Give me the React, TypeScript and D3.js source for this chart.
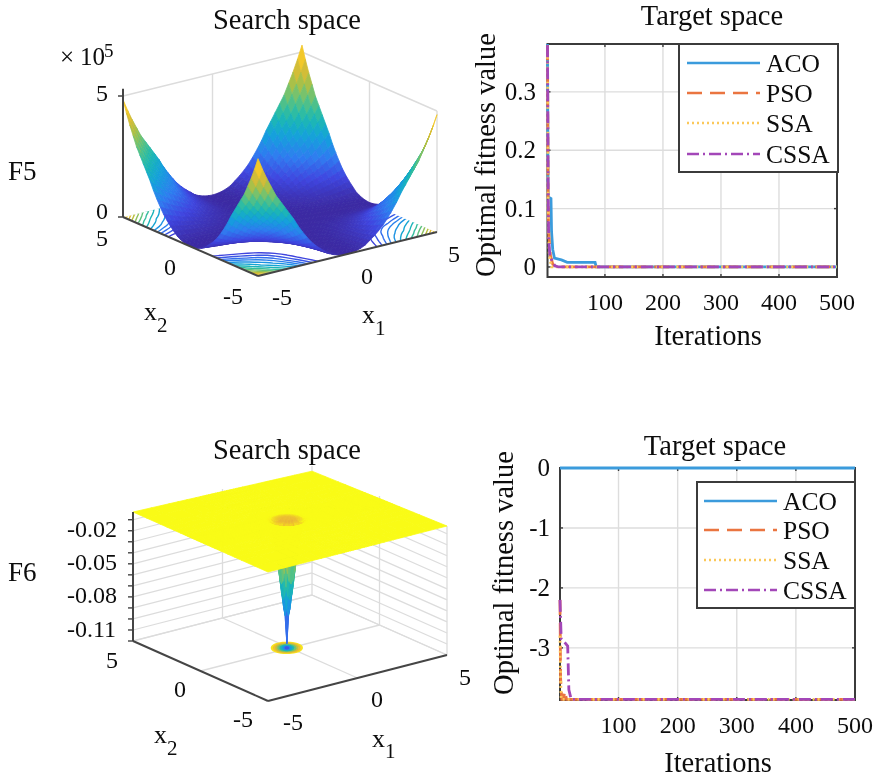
import React from 'react';
import * as d3 from 'd3';

const FONT = '"Liberation Serif", "Times New Roman", serif';

// --- convergence curves, [iteration, fitness] ---
const f5Aco = [[1, 0.382], [2, 0.12], [7, 0.117], [8, 0.06], [10, 0.03], [13, 0.015], [25, 0.012], [35, 0.008], [83, 0.008], [85, 0], [500, 0]];
const f5Pso = [[1, 0.38], [2, 0.12], [3, 0.06], [6, 0.02], [10, 0.005], [15, 0], [500, 0]];
const f5Ssa = [[1, 0.36], [2, 0.11], [4, 0.02], [8, 0], [500, 0]];
const f5Cssa = [[1, 0.38], [2, 0.15], [3, 0.05], [5, 0.02], [10, 0.008], [14, 0.002], [20, 0], [500, 0]];

const f6Aco = [[1, 0], [500, 0]];
const f6Pso = [[1, -2.2], [2, -3.5], [3, -3.7], [4, -3.86], [7, -3.86], [9, -3.72], [12, -3.86], [500, -3.86]];
const f6Ssa = [[1, -2.8], [2, -3.5], [3, -3.86], [500, -3.86]];
const f6Cssa = [[1, -2.2], [3, -2.85], [8, -2.9], [14, -2.97], [16, -3.7], [20, -3.86], [500, -3.86]];

const seriesNames = ['ACO', 'PSO', 'SSA', 'CSSA'];
const seriesColors = ['#3a9bdc', '#ea7441', '#fbc85a', '#a347b8'];
const seriesDashes = ['none', '15,8', '2,3', '12,4,2,4'];

const iterTicks = [100, 200, 300, 400, 500];
const f5FitTicks = [0, 0.1, 0.2, 0.3];
const f6FitTicks = [0, -1, -2, -3];

// --- surfaces ---
// F5 height share along one axis, |x| = 0, 0.25 ... 5
const f5Profile = [0, 0.003, 0.01, 0.022, 0.04, 0.07, 0.1, 0.135, 0.175, 0.225, 0.28, 0.34, 0.41, 0.47, 0.53, 0.59, 0.65, 0.73, 0.81, 0.9, 1];
const f5Levels = [0.58, 0.8, 1.05, 1.3, 1.6, 1.95, 2.3, 2.65, 3, 3.35, 3.7, 4.05, 4.4, 4.7];
const f5Peak = 4.85;

// F6 well, radius from centre against depth
const f6Radii = [0, 0.05, 0.1, 0.2, 0.3, 0.4, 0.5, 0.6, 0.7, 0.8, 0.9];
const f6Depths = [-0.116, -0.1, -0.09, -0.075, -0.06, -0.043, -0.028, -0.016, -0.008, -0.004, -0.003];
const f6Centre = [-0.1, 0.1];
const f6ZMinor = [-0.12, -0.11, -0.1, -0.09, -0.08, -0.07, -0.06, -0.05, -0.04, -0.03, -0.02, -0.01];
const f6Nodes = [-5, -4, -3, -2.5, -2, -1.5, -1.25, ...d3.range(-1.1, 1.11, 0.1), 1.25, 1.5, 2, 2.5, 3, 4, 5];

const parulaStops = ['#3b2aa2', '#3f46e0', '#2f7cf0', '#14a0dc', '#1cb9b0', '#62c37c', '#b5c040', '#f0b92e', '#f9fb15'];
const parula = d3.scaleLinear<string>()
  .domain(parulaStops.map((_, i) => i / (parulaStops.length - 1)))
  .range(parulaStops)
  .clamp(true);

type Pt = [number, number];

const makeProject = (front: Pt, left: Pt, right: Pt, zScale: d3.ScaleLinear<number, number>) => {
  const t = d3.scaleLinear().domain([-5, 5]).range([0, 1]);
  return (x1: number, x2: number, z: number, stretch = 0): Pt => {
    const a = t(x1);
    const b = t(x2);
    return [
      front[0] + a * (right[0] - front[0]) + b * (left[0] - front[0]),
      front[1] + a * (right[1] - front[1]) + b * (left[1] - front[1]) - zScale(z) * (1 + stretch * a * b),
    ];
  };
};

const polyPath = (pts: Pt[]) => d3.line()(pts) + 'Z';

const Label = ({ x, y, size = 24, anchor = 'start', children, transform }: any) => (
  <text x={x} y={y} fontSize={size} textAnchor={anchor} fontFamily={FONT} fill="#0c0c0c" transform={transform}>
    {children}
  </text>
);

// small helper for surface cells, far corner first
const buildCells = (nodes: number[], zAt: (a: number, b: number) => number, project: any, color: any, stretch: number) => {
  const cells: { d: string; fill: string }[] = [];
  for (let i = nodes.length - 2; i >= 0; i--) {
    for (let j = nodes.length - 2; j >= 0; j--) {
      const a0 = nodes[i], a1 = nodes[i + 1], b0 = nodes[j], b1 = nodes[j + 1];
      const zs = [zAt(a0, b0), zAt(a1, b0), zAt(a1, b1), zAt(a0, b1)];
      cells.push({
        d: polyPath([
          project(a0, b0, zs[0], stretch),
          project(a1, b0, zs[1], stretch),
          project(a1, b1, zs[2], stretch),
          project(a0, b1, zs[3], stretch),
        ]),
        fill: color(d3.mean(zs)),
      });
    }
  }
  return cells;
};

const Surface = ({ cells }: any) => (
  <g>
    {cells.map((c: any, i: number) => (
      <path key={i} d={c.d} fill={c.fill} stroke={c.fill} strokeWidth={0.8} />
    ))}
  </g>
);

const F5Surface = () => {
  const zScale = d3.scaleLinear().domain([0, 5]).range([0, 121]);
  const project = makeProject([258, 276], [123, 217], [437, 232], zScale);
  const wall = (x1: number, x2: number, z = 5) => project(x1, x2, z);
  const nodes = d3.range(-5, 5.01, 0.25);
  const p = (v: number) => f5Profile[Math.round(Math.abs(v) / 0.25)];
  const zAt = (a: number, b: number) => f5Peak * p(a) * p(b);
  const color = (z: number) => parula(z / f5Peak);
  const cells = buildCells(nodes, zAt, project, color, 0.09);

  const n = nodes.length;
  const values = new Array(n * n);
  nodes.forEach((b, j) => nodes.forEach((a, i) => { values[j * n + i] = zAt(a, b); }));
  const contourSet = d3.contours().size([n, n]).thresholds(f5Levels)(values);
  const toFloor = d3.geoTransform({
    point(x: number, y: number) {
      const [px, py] = project(-5 + (x - 0.5) * 0.25, -5 + (y - 0.5) * 0.25, 0);
      this.stream.point(px, py);
    },
  });
  const contourPath = d3.geoPath(toFloor);
  const clip = polyPath([project(-4.95, -4.95, 0), project(4.95, -4.95, 0), project(4.95, 4.95, 0), project(-4.95, 4.95, 0)]);

  const grey = '#dcdcdc';
  const seg = (a: Pt, b: Pt, stroke = grey, w = 1.4, key?: any) => (
    <line key={key} x1={a[0]} y1={a[1]} x2={b[0]} y2={b[1]} stroke={stroke} strokeWidth={w} />
  );
  const dark = '#444';
  const zAxisTop = project(-5, 5, 5.3);

  return (
    <g>
      {seg(wall(-5, 5), wall(5, 5))}
      {seg(wall(5, 5), wall(5, -5))}
      {seg(wall(0, 5), wall(0, 5, 0))}
      {seg(wall(5, 0), wall(5, 0, 0))}
      {seg(wall(5, -5), wall(5, -5, 0))}
      <clipPath id="f5floor"><path d={clip} /></clipPath>
      <g clipPath="url(#f5floor)">
        {contourSet.map((c, i) => (
          <path key={i} d={contourPath(c as any) || ''} fill="none" stroke={color(c.value)} strokeWidth={1.4} />
        ))}
      </g>
      <Surface cells={cells} />
      {seg(wall(-5, 5, 0), zAxisTop, dark, 2)}
      {seg(wall(-5, 5, 0), wall(-5, -5, 0), dark, 2)}
      {seg(wall(-5, -5, 0), wall(5, -5, 0), dark, 2)}
      {[0, 5].map((z) => {
        const q = project(-5, 5, z);
        return <line key={z} x1={q[0] - 5} x2={q[0]} y1={q[1]} y2={q[1]} stroke={dark} strokeWidth={1.5} />;
      })}
    </g>
  );
};

const F6Surface = () => {
  const zScale = d3.scaleLinear().domain([-0.12, -0.003]).range([0, 129]);
  const project = makeProject([268, 701], [133, 641], [447, 655], zScale);
  const well = d3.scaleLinear().domain(f6Radii).range(f6Depths).clamp(true);
  const zAt = (a: number, b: number) => well(Math.hypot(a - f6Centre[0], b - f6Centre[1]));
  const color = (z: number) => parula((z + 0.12) / 0.117);
  const planeStretch = -0.04;
  const cells = buildCells(f6Nodes, zAt, project, color, planeStretch);
  const floorZ = -0.12;
  const grey = '#dcdcdc';
  const seg = (a: Pt, b: Pt, stroke = grey, w = 1.3, key?: any) => (
    <line key={key} x1={a[0]} y1={a[1]} x2={b[0]} y2={b[1]} stroke={stroke} strokeWidth={w} />
  );
  const dark = '#444';
  const ringPath = (r: number, z: number) => polyPath(
    d3.range(0, 360, 10).map((deg) => project(
      f6Centre[0] + r * Math.cos((deg * Math.PI) / 180),
      f6Centre[1] + r * Math.sin((deg * Math.PI) / 180),
      z,
      planeStretch * 0.25,
    )),
  );

  return (
    <g>
      {f6ZMinor.map((z) => (
        <g key={z}>
          {seg(project(-5, 5, z), project(5, 5, z), grey, 1.2)}
          {seg(project(5, 5, z), project(5, -5, z), grey, 1.2)}
        </g>
      ))}
      {seg(project(0, 5, floorZ), project(0, 5, -0.003))}
      {seg(project(5, 5, floorZ), project(5, 5, -0.003))}
      {seg(project(5, 0, floorZ), project(5, 0, -0.003))}
      {seg(project(5, -5, floorZ), project(5, -5, -0.003))}
      {seg(project(0, -5, floorZ), project(0, 5, floorZ))}
      {seg(project(-5, 0, floorZ), project(5, 0, floorZ))}
      {seg(project(-5, 5, floorZ), project(5, 5, floorZ))}
      {seg(project(5, 5, floorZ), project(5, -5, floorZ))}
      {f6Radii.slice(1, 9).reverse().map((r) => (
        <path key={r} d={ringPath(r * 0.95, floorZ)} fill="none" stroke={color(well(r))} strokeWidth={2.4} />
      ))}
      <Surface cells={cells} />
      {/* rim of the well seen on the plane */}
      {f6Radii.slice(5, 9).map((r) => (
        <path key={r} d={ringPath(r, -0.003)} fill="#e8a040" fillOpacity={0.2} stroke="none" />
      ))}
      {seg(project(-5, 5, floorZ), project(-5, 5, -0.003), dark, 2)}
      {seg(project(-5, 5, floorZ), project(-5, -5, floorZ), dark, 2)}
      {seg(project(-5, -5, floorZ), project(5, -5, floorZ), dark, 2)}
      {f6ZMinor.map((z) => {
        const q = project(-5, 5, z);
        return <line key={z} x1={q[0] - 5} x2={q[0]} y1={q[1]} y2={q[1]} stroke={dark} strokeWidth={1.4} />;
      })}
    </g>
  );
};

const LinePanel = ({ box, yDomain, yTicks, yFormat, series, legend, tickLabelRight, tickLabelY }: any) => {
  const x = d3.scaleLinear().domain([1, 500]).range([box.left, box.right]);
  const y = d3.scaleLinear().domain(yDomain).range([box.bottom, box.top]);
  const line = d3.line<number[]>().x((d) => x(d[0])).y((d) => y(d[1]));
  const dark = '#3a3a3a';
  return (
    <g>
      <rect x={box.left} y={box.top} width={box.right - box.left} height={box.bottom - box.top} fill="#fff" />
      {iterTicks.map((t) => (
        <line key={t} x1={x(t)} x2={x(t)} y1={box.top} y2={box.bottom} stroke="#dddddd" strokeWidth={1.4} />
      ))}
      {yTicks.map((t: number) => (
        <line key={t} x1={box.left} x2={box.right} y1={y(t)} y2={y(t)} stroke="#dddddd" strokeWidth={1.4} />
      ))}
      {iterTicks.map((t) => (
        <g key={t}>
          <line x1={x(t)} x2={x(t)} y1={box.bottom} y2={box.bottom - 3} stroke={dark} strokeWidth={1.4} />
          <line x1={x(t)} x2={x(t)} y1={box.top} y2={box.top + 3} stroke={dark} strokeWidth={1.4} />
          <Label x={x(t)} y={tickLabelY} size={24} anchor="middle">{t}</Label>
        </g>
      ))}
      {yTicks.map((t: number) => (
        <g key={t}>
          <line x1={box.left} x2={box.left + 3} y1={y(t)} y2={y(t)} stroke={dark} strokeWidth={1.4} />
          <line x1={box.right} x2={box.right - 3} y1={y(t)} y2={y(t)} stroke={dark} strokeWidth={1.4} />
          <Label x={tickLabelRight} y={y(t) + 8} size={25} anchor="end">{yFormat(t)}</Label>
        </g>
      ))}
      <rect x={box.left} y={box.top} width={box.right - box.left} height={box.bottom - box.top} fill="none" stroke={dark} strokeWidth={2} />
      {series.map((s: number[][], i: number) => (
        <path key={i} d={line(s) || ''} fill="none" stroke={seriesColors[i]} strokeWidth={2.8} strokeDasharray={seriesDashes[i]} />
      ))}
      <rect x={legend.left} y={legend.top} width={legend.right - legend.left} height={legend.bottom - legend.top} fill="#fff" stroke={dark} strokeWidth={2} />
      {seriesNames.map((name, i) => (
        <g key={name}>
          <line x1={legend.lineFrom} x2={legend.lineTo} y1={legend.rows[i]} y2={legend.rows[i]} stroke={seriesColors[i]} strokeWidth={2.6} strokeDasharray={seriesDashes[i]} />
          <Label x={legend.text} y={legend.rows[i] + 9} size={25.5}>{name}</Label>
        </g>
      ))}
    </g>
  );
};

const AxisName = ({ x, y, sub, subX, subY }: any) => (
  <g>
    <Label x={x} y={y} size={26}>x</Label>
    <Label x={subX} y={subY} size={21}>{sub}</Label>
  </g>
);

export default function App() {
  return (
    <svg width={875} height={777} viewBox="0 0 875 777" style={{ position: 'absolute', left: 0, top: 0, background: '#fff' }}>
      <defs>
        <filter id="soft" x="0" y="0" width="100%" height="100%">
          <feGaussianBlur stdDeviation="0.45" />
        </filter>
      </defs>
      <g filter="url(#soft)">
        <rect width={875} height={777} fill="#fff" />

        {/* top left */}
        <Label x={287} y={29} size={28.5} anchor="middle">Search space</Label>
        <F5Surface />
        <Label x={60} y={65} size={25}>×</Label>
        <Label x={80} y={65} size={25}>10</Label>
        <Label x={104} y={57} size={19}>5</Label>
        <Label x={8} y={180} size={27}>F5</Label>
        <Label x={102} y={101} size={24} anchor="middle">5</Label>
        <Label x={102} y={219} size={24} anchor="middle">0</Label>
        <Label x={102} y={246} size={24} anchor="middle">5</Label>
        <Label x={170} y={275} size={24} anchor="middle">0</Label>
        <Label x={233} y={304} size={24} anchor="middle">-5</Label>
        <Label x={282} y={305} size={24} anchor="middle">-5</Label>
        <Label x={367} y={284} size={24} anchor="middle">0</Label>
        <Label x={454} y={262} size={24} anchor="middle">5</Label>
        <AxisName x={144} y={320} sub="2" subX={157} subY={332} />
        <AxisName x={362} y={323} sub="1" subX={375} subY={335} />

        {/* top right */}
        <Label x={712} y={25} size={28.5} anchor="middle">Target space</Label>
        <LinePanel
          box={{ left: 547.5, right: 837, top: 44, bottom: 277 }}
          yDomain={[-0.0172, 0.382]}
          yTicks={f5FitTicks}
          yFormat={(t: number) => (t === 0 ? '0' : t.toFixed(1))}
          series={[f5Aco, f5Pso, f5Ssa, f5Cssa]}
          legend={{ left: 679, right: 838, top: 44, bottom: 172, lineFrom: 687, lineTo: 760, text: 766, rows: [63, 93, 123, 154] }}
          tickLabelRight={536}
          tickLabelY={310}
        />
        <Label x={0} y={0} size={28.5} anchor="middle" transform="translate(495,155) rotate(-90)">Optimal fitness value</Label>
        <Label x={708} y={345} size={28.5} anchor="middle">Iterations</Label>

        {/* bottom left */}
        <Label x={287} y={459} size={28.5} anchor="middle">Search space</Label>
        <F6Surface />
        <Label x={8} y={581} size={27}>F6</Label>
        <Label x={67} y={537} size={24}>-0.02</Label>
        <Label x={67} y={570} size={24}>-0.05</Label>
        <Label x={67} y={603} size={24}>-0.08</Label>
        <Label x={67} y={637} size={24}>-0.11</Label>
        <Label x={112} y={668} size={24} anchor="middle">5</Label>
        <Label x={180} y={697} size={24} anchor="middle">0</Label>
        <Label x={243} y={727} size={24} anchor="middle">-5</Label>
        <Label x={293} y={730} size={24} anchor="middle">-5</Label>
        <Label x={377} y={707} size={24} anchor="middle">0</Label>
        <Label x={465} y={685} size={24} anchor="middle">5</Label>
        <AxisName x={154} y={743} sub="2" subX={167} subY={755} />
        <AxisName x={372} y={747} sub="1" subX={385} subY={758} />

        {/* bottom right */}
        <Label x={715} y={455} size={28.5} anchor="middle">Target space</Label>
        <LinePanel
          box={{ left: 560, right: 855, top: 468, bottom: 700 }}
          yDomain={[-3.87, 0]}
          yTicks={f6FitTicks}
          yFormat={(t: number) => String(t)}
          series={[f6Aco, f6Pso, f6Ssa, f6Cssa]}
          legend={{ left: 697, right: 855, top: 482, bottom: 608, lineFrom: 704, lineTo: 777, text: 783, rows: [501, 530, 560, 590] }}
          tickLabelRight={550}
          tickLabelY={733}
        />
        <Label x={0} y={0} size={28.5} anchor="middle" transform="translate(513,573) rotate(-90)">Optimal fitness value</Label>
        <Label x={718} y={772} size={28.5} anchor="middle">Iterations</Label>
      </g>
    </svg>
  );
}
